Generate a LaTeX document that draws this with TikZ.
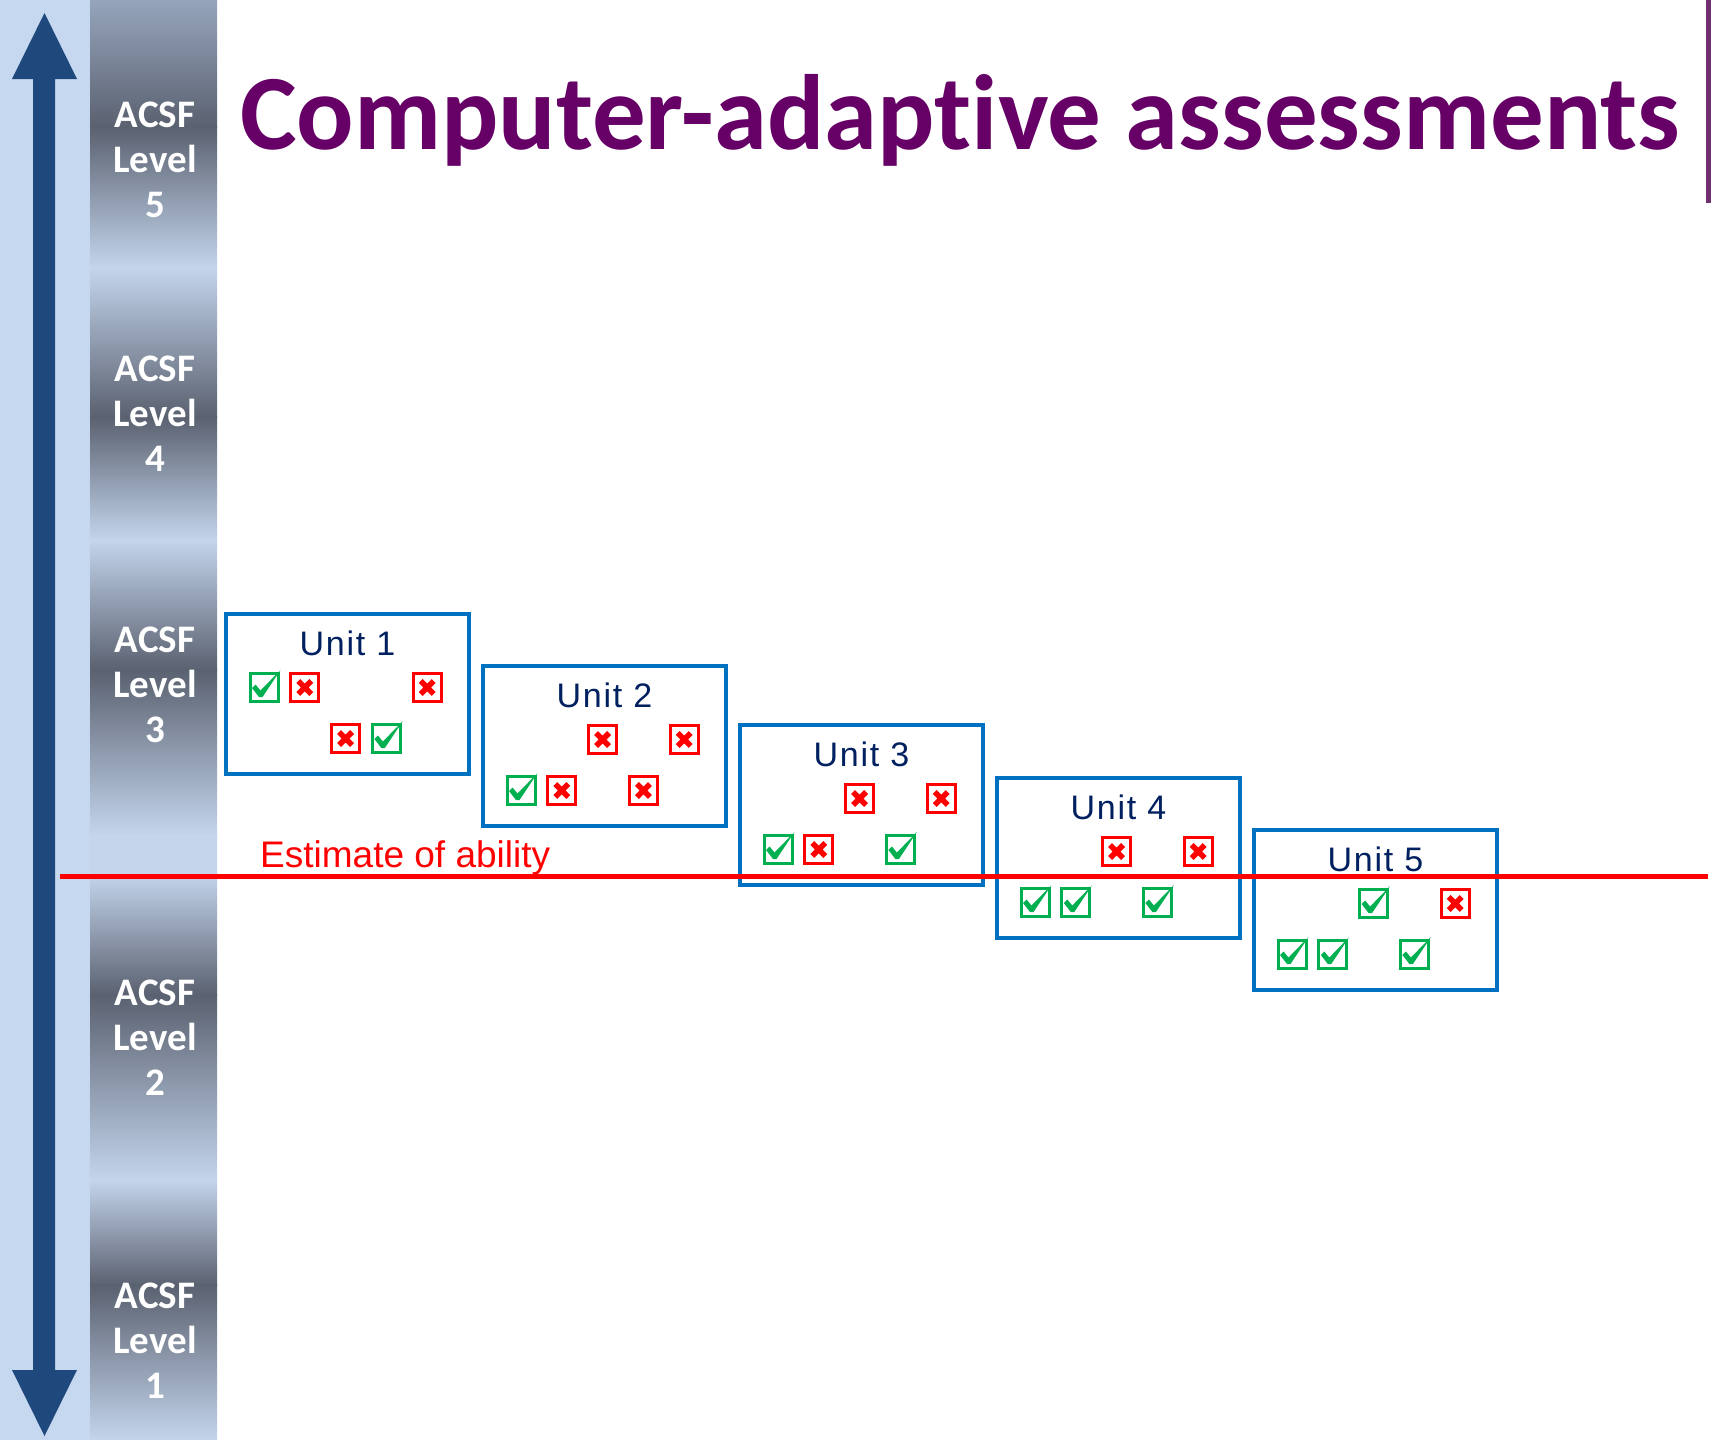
\documentclass[tikz,border=0pt]{standalone}
\usepackage{fontspec}
\setmainfont{Liberation Sans}
\newfontfamily\calibri[Ligatures=CommonOff]{Carlito}
\newfontfamily\unitfont[LetterSpace=5]{Liberation Sans}
\usetikzlibrary{positioning,calc}

\definecolor{titlepurple}{RGB}{102,0,102}
\definecolor{edgepurple}{RGB}{112,48,112}
\definecolor{stripblue}{RGB}{198,216,239}
\definecolor{bandlight}{RGB}{196,213,236}
\definecolor{bandmid}{RGB}{150,165,188}
\definecolor{banddark}{RGB}{90,97,112}
\definecolor{arrowblue}{RGB}{31,73,125}
\definecolor{boxblue}{RGB}{0,112,192}
\definecolor{unitnavy}{RGB}{0,32,96}
\definecolor{okgreen}{RGB}{0,176,80}
\definecolor{nored}{RGB}{255,0,0}

\tikzset{
	unitbox/.style={draw=boxblue, line width=4pt, minimum width=243pt, minimum height=160pt,
		anchor=north west, inner sep=0pt, outer sep=0pt},
	unitlbl/.style={text=unitnavy, font=\unitfont\fontsize{34}{36}\selectfont, inner sep=0pt},
	lvl/.style={text=white, font=\calibri\bfseries\fontsize{39}{45}\selectfont, align=center, inner sep=0pt},
	iconbox/.style={minimum size=28pt, inner sep=0pt, outer sep=0pt, line width=3pt},
	okbox/.style={iconbox, draw=okgreen},
	nobox/.style={iconbox, draw=nored},
	okmark/.pic={
		\fill[okgreen] (-12,0.5) -- (-8.5,-3) -- (-3.5,3) -- (16.5,-17.5) -- (-1.5,9.5) -- (-5,9.5) -- cycle;
	},
	nomark/.pic={
		\draw[nored, line width=5.5pt] (-6.5,-6.5) -- (6.5,6.5) (6.5,-6.5) -- (-6.5,6.5);
	},
}

\begin{document}
\begin{tikzpicture}[x=1pt, y=-1pt]

\useasboundingbox (0,0) rectangle (1711,1440);
\fill[white] (0,0) rectangle (1711,1440);

% LEVEL STRIP
\fill[stripblue] (0,0) rectangle (217,1440);
\foreach \a/\b/\ca/\cb in{
	0/127/bandmid/banddark, 127/268/banddark/bandlight,
	268/417/bandlight/banddark, 417/540/banddark/bandlight,
	540/670/bandlight/banddark, 670/835/banddark/bandlight,
	835/874/bandlight/bandlight, 874/995/bandlight/banddark,
	995/1180/banddark/bandlight, 1180/1285/bandlight/banddark,
	1285/1440/banddark/bandlight%
}{
	\shade[top color=\ca, bottom color=\cb] (90,\a-0.5) rectangle (217,\b+0.5);
}

\fill[arrowblue] (44.5,13) -- (77,79) -- (55,79) -- (55,1370) -- (77,1370) -- (44.5,1436)
	-- (12,1370) -- (33,1370) -- (33,79) -- (12,79) -- cycle;

\foreach \i/\y in{5/160, 4/414, 3/685, 2/1038, 1/1341}{
	\node[lvl] (lv\i) at (155,\y) {ACSF\\Level\\\i};
}

% TITLE
\node[anchor=base west, inner sep=0pt, text=titlepurple, font=\calibri\bfseries\fontsize{107}{110}\selectfont]
	(title) at (240,149) {Computer-adaptive assessments};
\fill[edgepurple] (1706,0) rectangle (1711,203);

% UNITS
\foreach \u/\x/\y in{1/226/614, 2/483/666, 3/740/725, 4/997/778, 5/1254/830}{
	\node[unitbox] (u\u) at (\x,\y) {};
	\node[unitlbl] (u\u lbl) at ([yshift=-29pt]u\u.north) {Unit \u};
}

% ANSWERS
\foreach \u/\s/\r/\ans in{
	1/1/1/ok, 1/2/1/no, 1/5/1/no, 1/3/2/no, 1/4/2/ok,
	2/3/1/no, 2/5/1/no, 2/1/2/ok, 2/2/2/no, 2/4/2/no,
	3/3/1/no, 3/5/1/no, 3/1/2/ok, 3/2/2/no, 3/4/2/ok,
	4/3/1/no, 4/5/1/no, 4/1/2/ok, 4/2/2/ok, 4/4/2/ok,
	5/3/1/ok, 5/5/1/no, 5/1/2/ok, 5/2/2/ok, 5/4/2/ok%
}{
	\node[\ans box] (a\u-\s-\r) at ($(u\u.north west)+({38+40.8*(\s-1)},{73.5+51*(\r-1)})$) {};
	\pic at (a\u-\s-\r.center) {\ans mark};
}

% ABILITY
\coordinate (abl0) at (60,876);
\coordinate (abl1) at (1708,876);
\draw[nored, line width=5pt] (abl0) -- (abl1);
\node[anchor=base west, inner sep=0pt, text=nored, font=\fontsize{37}{40}\selectfont]
	(abl) at (260,867) {Estimate of ability};

\end{tikzpicture}
\end{document}
